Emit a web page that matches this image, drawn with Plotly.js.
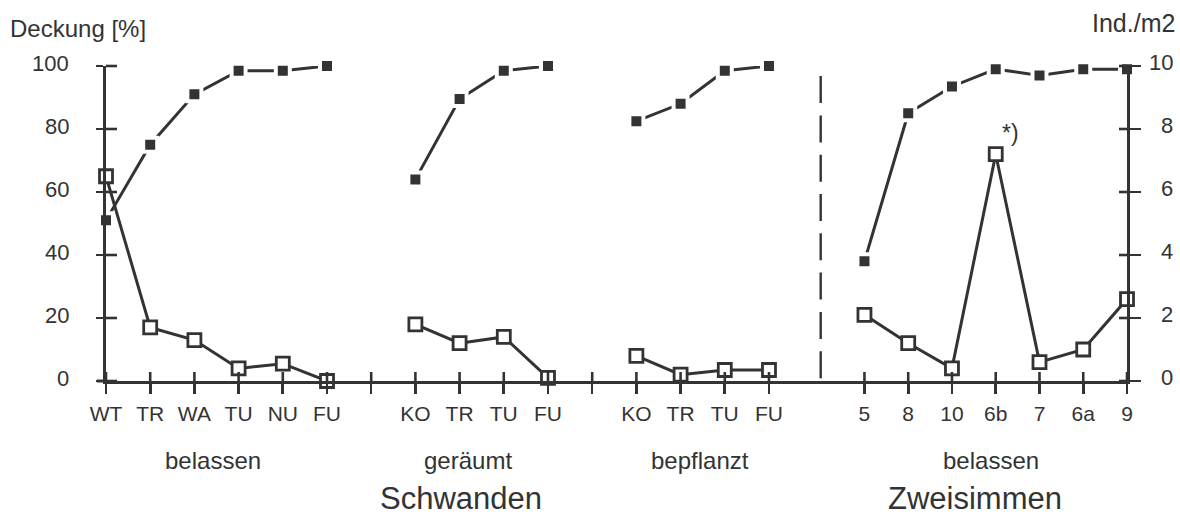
<!DOCTYPE html>
<html>
<head>
<meta charset="utf-8">
<script src="https://cdn.plot.ly/plotly-3.0.1.min.js"></script>
<style>
  html, body { margin: 0; padding: 0; background: #fff; }
  #chart { width: 1180px; height: 517px; }
</style>
</head>
<body>
<div id="chart"></div>
<script>
// ---- Data ----
// Schwanden, belassen
const schBelLabels = ['WT', 'TR', 'WA', 'TU', 'NU', 'FU'];
const schBelPos    = [0, 1, 2, 3, 4, 5];
const schBelCover  = [51, 75, 91, 98.5, 98.5, 100];     // Deckung [%]
const schBelDens   = [6.5, 1.7, 1.3, 0.4, 0.55, 0.0];   // Ind./m2

// Schwanden, geräumt
const schGerLabels = ['KO', 'TR', 'TU', 'FU'];
const schGerPos    = [7, 8, 9, 10];
const schGerCover  = [64, 89.5, 98.5, 100];
const schGerDens   = [1.8, 1.2, 1.4, 0.1];

// Schwanden, bepflanzt
const schBepLabels = ['KO', 'TR', 'TU', 'FU'];
const schBepPos    = [12, 13, 14, 15];
const schBepCover  = [82.5, 88, 98.5, 100];
const schBepDens   = [0.8, 0.2, 0.35, 0.35];

// Zweisimmen, belassen
const zweiLabels = ['5', '8', '10', '6b', '7', '6a', '9'];
const zweiPos    = [17.16, 18.15, 19.14, 20.13, 21.12, 22.11, 23.1];
const zweiCover  = [38, 85, 93.5, 99, 97, 99, 99];
const zweiDens   = [2.1, 1.2, 0.4, 7.2, 0.6, 1.0, 2.6];

// blank tick marks between groups
const blankTickPos = [6, 11];
const separatorPos = 16.17;

const leftTicks  = [0, 20, 40, 60, 80, 100];
const rightTicks = [0, 2, 4, 6, 8, 10];

const groupLabels = [
  { text: 'belassen',  x: 2.42 },
  { text: 'geräumt',   x: 8.2 },
  { text: 'bepflanzt', x: 13.44 },
  { text: 'belassen',  x: 20.03 }
];
const siteLabels = [
  { text: 'Schwanden',  x: 8.04 },
  { text: 'Zweisimmen', x: 19.67 }
];

// ---- Styling ----
const INK = '#333333';
const FONT = 'Liberation Sans, Arial, Helvetica, sans-serif';
const LW = 3;
const TW = 2.6;

const XR = [0, 23.1];
const YL = [0, 100];
const YR = [0, 10];

const groups = [
  { pos: schBelPos, cover: schBelCover, dens: schBelDens },
  { pos: schGerPos, cover: schGerCover, dens: schGerDens },
  { pos: schBepPos, cover: schBepCover, dens: schBepDens },
  { pos: zweiPos,   cover: zweiCover,   dens: zweiDens }
];

const traces = [];
groups.forEach(g => {
  traces.push({
    x: g.pos, y: g.dens, yaxis: 'y2', type: 'scatter', mode: 'lines+markers',
    cliponaxis: false, showlegend: false, hoverinfo: 'skip',
    line: { color: INK, width: LW },
    marker: { symbol: 'square', size: 13, color: '#ffffff', line: { color: INK, width: 2.8 } }
  });
});
groups.forEach(g => {
  traces.push({
    x: g.pos, y: g.cover, type: 'scatter', mode: 'lines+markers',
    cliponaxis: false, showlegend: false, hoverinfo: 'skip',
    line: { color: INK, width: LW },
    marker: { symbol: 'square', size: 14, color: INK, line: { color: '#ffffff', width: 4 } }
  });
});

// x ticks
const xTickVals = [].concat(schBelPos, blankTickPos[0], schGerPos, blankTickPos[1], schBepPos, zweiPos);
const xTickText = [].concat(schBelLabels, '', schGerLabels, '', schBepLabels, zweiLabels);

// inner halves of the crossing tick marks (outer halves come from the axes)
const shapes = [];
xTickVals.forEach(v => shapes.push({
  type: 'line', xref: 'paper', yref: 'paper',
  x0: (v - XR[0]) / (XR[1] - XR[0]), x1: (v - XR[0]) / (XR[1] - XR[0]),
  ysizemode: 'pixel', yanchor: 0, y0: 0, y1: 9,
  line: { color: INK, width: TW }
}));
leftTicks.forEach(v => shapes.push({
  type: 'line', xref: 'paper', yref: 'paper',
  xsizemode: 'pixel', xanchor: 0, x0: 0, x1: 11,
  y0: (v - YL[0]) / (YL[1] - YL[0]), y1: (v - YL[0]) / (YL[1] - YL[0]),
  line: { color: INK, width: TW }
}));
rightTicks.forEach(v => shapes.push({
  type: 'line', xref: 'paper', yref: 'paper',
  xsizemode: 'pixel', xanchor: 1, x0: -8, x1: 0,
  y0: (v - YR[0]) / (YR[1] - YR[0]), y1: (v - YR[0]) / (YR[1] - YR[0]),
  line: { color: INK, width: TW }
}));
// dashed separator between Schwanden and Zweisimmen
shapes.push({ type: 'line', xref: 'x', yref: 'y', x0: separatorPos, x1: separatorPos, y0: 96.8, y1: 0,
  line: { color: INK, width: 2.4, dash: '27px,12.3px' } });
// small overhang of the x axis line left of the y axis
shapes.push({ type: 'line', xref: 'paper', yref: 'paper', x0: -0.0088, x1: 0, y0: 0, y1: 0,
  line: { color: INK, width: LW } });

const annotations = [];
// y tick labels (right aligned on both sides, as in the reference)
leftTicks.forEach(v => annotations.push({
  text: String(v), x: -0.0343, xref: 'paper', y: v, yref: 'y',
  xanchor: 'right', yanchor: 'middle', yshift: 3, showarrow: false,
  font: { family: FONT, size: 22, color: INK }
}));
rightTicks.forEach(v => annotations.push({
  text: String(v), x: 1.0473, xref: 'paper', y: v, yref: 'y2',
  xanchor: 'right', yanchor: 'middle', yshift: 4, showarrow: false,
  font: { family: FONT, size: 22, color: INK }
}));
groupLabels.forEach(g => annotations.push({
  text: g.text, x: g.x, xref: 'x', y: -0.252, yref: 'paper',
  xanchor: 'center', yanchor: 'middle', showarrow: false,
  font: { family: FONT, size: 24, color: INK }
}));
siteLabels.forEach(g => annotations.push({
  text: g.text, x: g.x, xref: 'x', y: -0.374, yref: 'paper',
  xanchor: 'center', yanchor: 'middle', showarrow: false,
  font: { family: FONT, size: 31, color: INK }
}));
annotations.push({
  text: 'Deckung [%]', x: -0.096, xref: 'paper', y: 1.12, yref: 'paper',
  xanchor: 'left', yanchor: 'middle', showarrow: false,
  font: { family: FONT, size: 24, color: INK }
});
annotations.push({
  text: 'Ind./m2', x: 1.0493, xref: 'paper', y: 1.136, yref: 'paper',
  xanchor: 'right', yanchor: 'middle', showarrow: false,
  font: { family: FONT, size: 25, color: INK }
});
annotations.push({
  text: '*)', x: 20.46, xref: 'x', y: 78.7, yref: 'y',
  xanchor: 'center', yanchor: 'middle', showarrow: false,
  font: { family: FONT, size: 23, color: INK }
});

const layout = {
  width: 1180, height: 517,
  margin: { l: 106, r: 53.3, t: 66, b: 136.3, pad: 0 },
  paper_bgcolor: '#ffffff', plot_bgcolor: 'rgba(0,0,0,0)',
  font: { family: FONT, color: INK },
  showlegend: false,
  xaxis: {
    range: XR, showgrid: false, zeroline: false,
    showline: true, linecolor: INK, linewidth: LW,
    ticks: 'outside', ticklen: 10, tickwidth: TW, tickcolor: INK,
    tickmode: 'array', tickvals: xTickVals, ticktext: xTickText,
    tickfont: { family: FONT, size: 21, color: INK },
    ticklabelstandoff: 2
  },
  yaxis: {
    range: YL, showgrid: false, zeroline: false,
    showline: true, linecolor: INK, linewidth: LW,
    ticks: 'outside', ticklen: 7, tickwidth: TW, tickcolor: INK,
    tickmode: 'array', tickvals: leftTicks, showticklabels: false
  },
  yaxis2: {
    overlaying: 'y', side: 'right', anchor: 'x', range: YR,
    showgrid: false, zeroline: false,
    showline: true, linecolor: INK, linewidth: LW,
    ticks: 'outside', ticklen: 11, tickwidth: TW, tickcolor: INK,
    tickmode: 'array', tickvals: rightTicks, showticklabels: false
  },
  shapes: shapes,
  annotations: annotations
};

Plotly.newPlot('chart', traces, layout, { staticPlot: true, displayModeBar: false });
</script>
</body>
</html>
